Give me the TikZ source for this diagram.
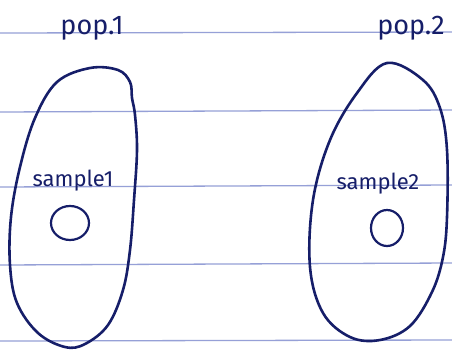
\documentclass[tikz,border=0pt]{standalone}
\usepackage{fontspec}
\setmainfont{Fira Sans}
\begin{document}
\begin{tikzpicture}[x=1pt,y=-1pt,
  ink/.style={draw=inkc,line width=2.6pt,line join=round,line cap=round},
  rule/.style={draw=rulec,line width=1.3pt},
  lbl/.style={text=inkc,inner sep=0pt,anchor=base}]
\definecolor{inkc}{RGB}{22,30,105}
\definecolor{rulec}{RGB}{150,160,215}
\useasboundingbox[fill=white] (0,0) rectangle (452,349);
% ruled lines
\draw[rule] (0,33) -- (452,32);
\draw[rule] (0,112) -- (452,110);
\draw[rule] (0,187) -- (452,185);
\draw[rule] (0,265) -- (452,263);
\draw[rule] (0,341) -- (452,340);
% population 1
\draw[ink] plot[smooth cycle,tension=0.6] coordinates {
  (90,68) (118,70) (130,82) (132,98) (135,115) (137,150) (134,200) (130,250)
  (123,290) (108,325) (85,344) (65,347) (38,333) (17,303) (10,265) (11,217)
  (20,167) (35,118) (57,82)};
% population 2
\draw[ink] plot[smooth cycle,tension=0.6] coordinates {
  (387,63) (423,80) (440,108) (447,150) (447,217) (443,257) (432,292)
  (410,326) (380,340) (350,337) (323,313) (310,267) (313,200) (330,140)
  (357,93)};
% samples
\draw[ink,line width=2.2pt] (70,223) ellipse [x radius=19,y radius=17];
\draw[ink,line width=2.2pt] (387,228) ellipse [x radius=16,y radius=18];
% labels
\node[lbl,font=\fontsize{27}{27}\selectfont] (pop1) at (92,34) {pop.1};
\node[lbl,font=\fontsize{27}{27}\selectfont] (pop2) at (411,34) {pop.2};
\node[lbl,font=\fontsize{22}{22}\selectfont] (s1) at (73,186) {sample1};
\node[lbl,font=\fontsize{22}{22}\selectfont] (s2) at (378,189) {sample2};
\end{tikzpicture}
\end{document}
